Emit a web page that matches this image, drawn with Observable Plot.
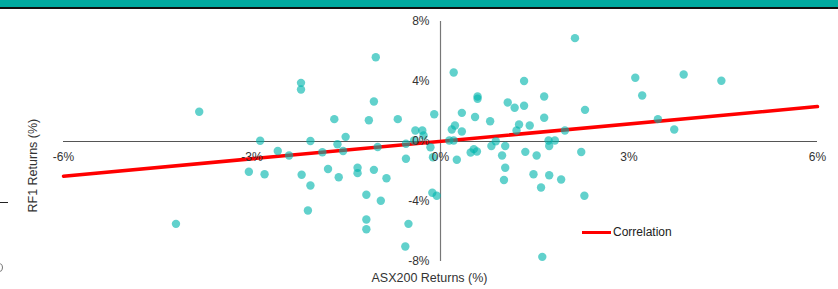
<!DOCTYPE html>
<html>
<head>
<meta charset="utf-8">
<script src="https://cdn.jsdelivr.net/npm/d3@7"></script>
<script src="https://cdn.jsdelivr.net/npm/@observablehq/plot@0.6"></script>
<style>
  html, body { margin: 0; padding: 0; background: #fff; }
  body { width: 838px; height: 289px; position: relative; overflow: hidden; font-family: "Liberation Sans", Arial, sans-serif; }
  #topbar { position: absolute; left: 0; top: 0; width: 838px; height: 7px; background: #00AAA0; }
  #topline { position: absolute; left: 0; top: 7px; width: 838px; height: 2px; background: #111; }
  #chart { position: absolute; left: 0; top: 0; }
  #legend { position: absolute; left: 582px; top: 225px; display: flex; align-items: center; font-size: 12px; color: #222; }
  #legend .sw { width: 29px; height: 3px; background: #ff0000; margin-right: 2px; }
  #edge1 { position: absolute; left: 0; top: 202px; width: 8px; height: 1px; background: #222; }
  #edge2 { position: absolute; left: -5px; top: 263px; width: 6px; height: 7px; border: 1px solid #777; border-radius: 50%; }
</style>
</head>
<body>
<div id="chart"></div>
<div id="topbar"></div>
<div id="topline"></div>
<div id="edge1"></div>
<div id="edge2"></div>
<div id="legend"><div class="sw"></div><span>Correlation</span></div>
<script>
// ASX200 returns (%) and RF1 returns (%)
const asxReturns = [
  -4.21, -3.84, -3.05, -2.87, -2.80, -2.59, -2.41, -2.22, -2.22, -2.21,
  -2.11, -2.07, -2.07, -1.88, -1.79, -1.69, -1.64, -1.62, -1.55, -1.51,
  -1.32, -1.32, -1.18, -1.18, -1.18, -1.14, -1.06, -1.03, -1.06, -1.00,
  -0.95, -0.86, -0.68, -0.56, -0.55, -0.55, -0.51, -0.42, -0.40, -0.29,
  -0.27, -0.16, -0.12, -0.13, -0.06, -0.10, 0.14, 0.21, 0.18, 0.23,
  0.21, 0.26, 0.34, 0.34, 0.48, 0.53, 0.58, 0.55, 0.59, 0.59,
  0.79, 0.81, 0.88, 0.98, 1.03, 1.03, 1.01, 1.07, 1.18, 1.21,
  1.25, 1.33, 1.33, 1.35, 1.42, 1.48, 1.53, 1.60, 1.62, 1.65,
  1.65, 1.72, 1.82, 1.73, 1.73, 1.92, 1.98, 2.14, 2.24, 2.29,
  2.30, 3.10, 3.21, 3.46, 3.72, 3.87, 4.47
];
const rf1Returns = [
  -5.49, 1.98, -2.02, 0.05, -2.18, -0.63, -0.93, 3.91, 3.47, -2.22,
  -4.60, 0.03, -2.93, -0.72, -1.83, 1.49, -0.18, -2.38, -0.63, 0.31,
  -1.75, -2.11, -3.55, -5.20, -5.85, 1.42, 2.67, 5.62, -1.89, -0.37,
  -3.95, -2.45, 1.49, -7.00, -0.15, -1.15, -5.49, 0.07, 0.73, 0.73,
  0.40, -0.38, -1.05, -3.42, -3.62, 1.82, 0.07, 0.07, 0.80, 1.07,
  4.60, -1.22, 1.91, 0.67, -0.73, -0.51, -0.67, 1.63, 3.00, 2.85,
  1.35, -0.30, 0.02, -0.93, -0.30, -1.75, -2.57, 2.60, 2.25, 0.73,
  1.13, 4.03, 2.38, -0.69, 1.07, -2.18, -0.93, -3.07, -7.69, 3.00,
  1.58, 0.07, 0.07, -0.30, -2.25, -2.53, 0.73, 6.89, -0.70, -3.62,
  2.11, 4.25, 3.07, 1.49, 0.80, 4.47, 4.05
];
// Correlation (trend) line endpoints
const corrX = [-6, 6];
const corrY = [-2.31, 2.33];
// Tick values
const xTicks = [-6, -3, 0, 3, 6];
const yTicks = [-8, -4, 0, 4, 8];

const points = asxReturns.map((x, i) => ({x, y: rf1Returns[i]}));
const corr = corrX.map((x, i) => ({x, y: corrY[i]}));
const font = "'Liberation Sans', Arial, sans-serif";

const chart = Plot.plot({
  width: 838,
  height: 289,
  marginLeft: 63,
  marginRight: 21,
  marginTop: 21,
  marginBottom: 28,
  x: {domain: [-6, 6], axis: null},
  y: {domain: [-8, 8], axis: null},
  style: {fontFamily: font, background: "transparent", overflow: "visible"},
  marks: [
    Plot.ruleY([0], {x1: -6, x2: 6, stroke: "#555", strokeWidth: 1.2}),
    Plot.ruleX([0], {y1: -8, y2: 8, stroke: "#777", strokeWidth: 1.2}),
    Plot.line(corr, {x: "x", y: "y", stroke: "#ff0000", strokeWidth: 3.5}),
    Plot.dot(points, {x: "x", y: "y", r: 4.2, fill: "#00B5AD", fillOpacity: 0.62, stroke: "none"}),
    Plot.text(xTicks, {x: d => d, y: 0, text: d => `${d}%`, dy: 16, fontSize: 12, fill: "#333"}),
    Plot.text(yTicks, {x: 0, y: d => d, text: d => `${d}%`, dx: -11, textAnchor: "end", fontSize: 12, fill: "#333"}),
    Plot.text(["ASX200 Returns (%)"], {frameAnchor: "bottom", dx: -11, dy: 20, fontSize: 12.5, fill: "#333"}),
    Plot.text(["RF1 Returns (%)"], {frameAnchor: "left", dx: -31, dy: 71, rotate: -90, fontSize: 12.5, fill: "#333"})
  ]
});
document.getElementById("chart").appendChild(chart);
</script>
</body>
</html>
